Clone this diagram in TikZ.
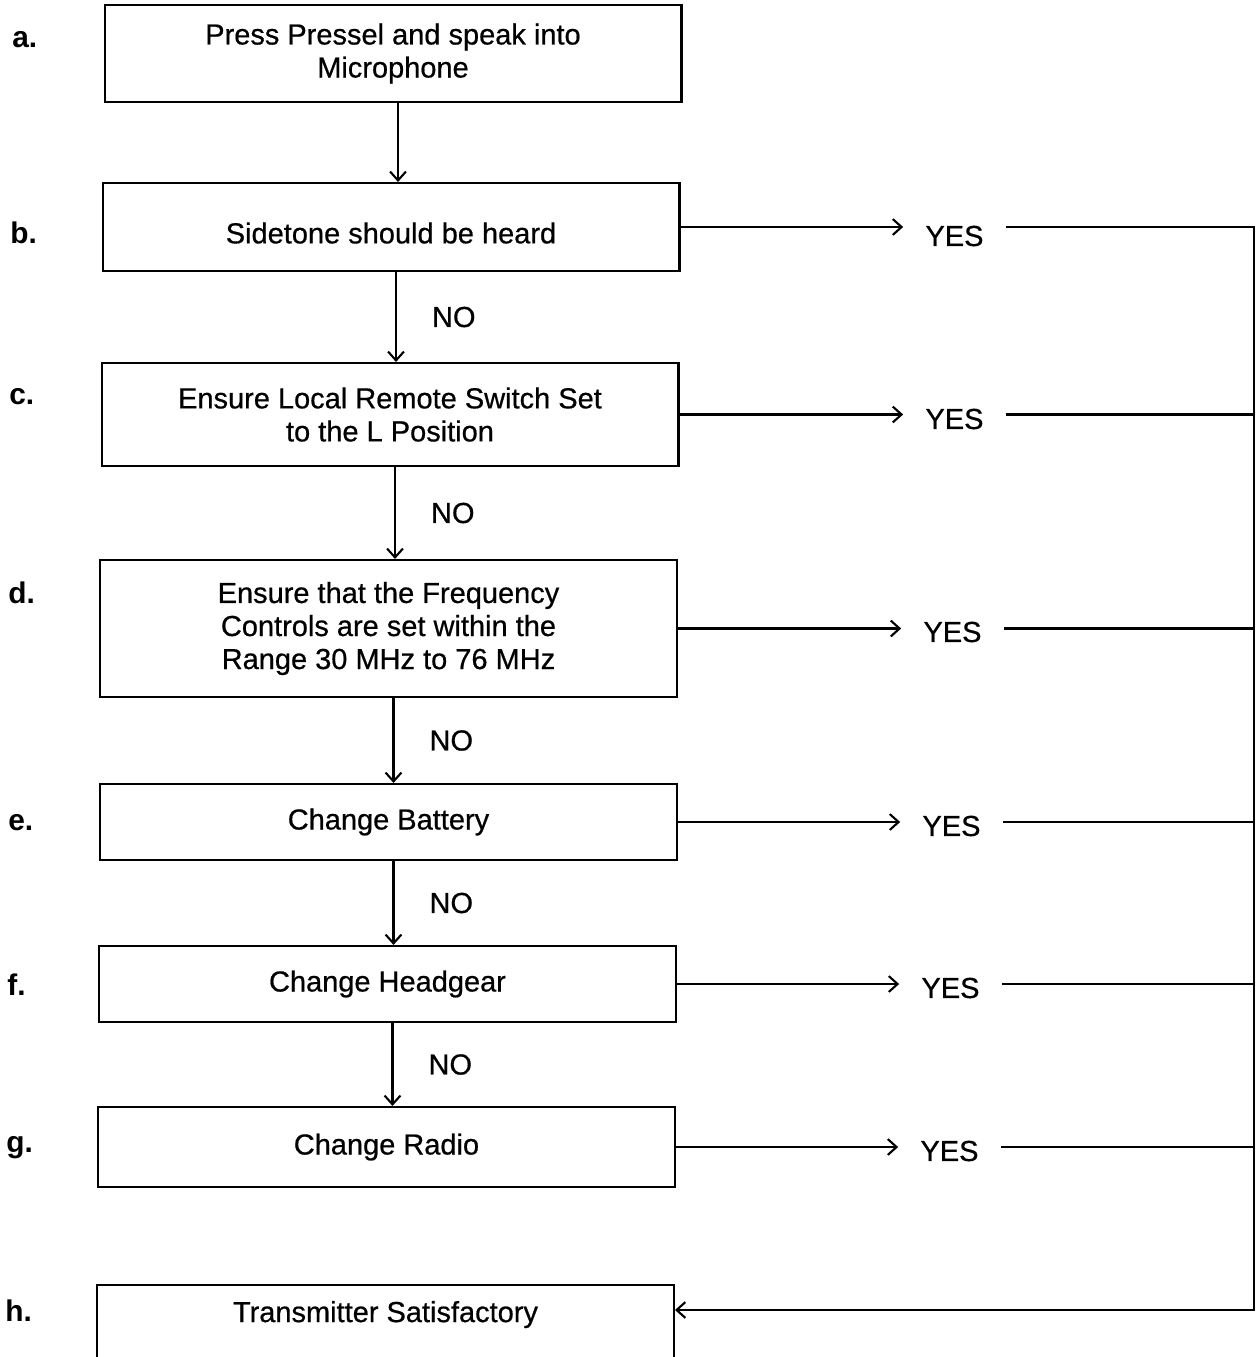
\documentclass[tikz,border=0pt]{standalone}
\usepackage{fontspec}
\setmainfont{Liberation Sans}
\newfontfamily\flowfont{Liberation Sans}[FakeBold=0.6]
\usetikzlibrary{arrows.meta,positioning}

\begin{document}
\begin{tikzpicture}[
    x=0.02cm, y=-0.02cm,
    font=\flowfont\fontsize{16.5}{18.8}\selectfont,
    stepBox/.style={
        rectangle, draw, line width=1.2pt, minimum width=11.54cm, align=center, inner sep=2pt
    },
    stepLabel/.style={
        font=\fontsize{17}{19}\selectfont\bfseries, anchor=west, inner sep=0pt
    },
    answer/.style={
        inner xsep=0.44cm, inner ysep=0pt
    },
    noLabel/.style={
        midway, right=0.7cm, inner sep=0pt
    },
    flowArrow/.style={
        -{Straight Barb[length=5pt, width=9pt]}, line width=1.2pt
    },
    railLine/.style={
        line width=1.2pt
    }
]
\useasboundingbox (0,0) rectangle (1258,1357);

% Step boxes
\node[stepBox, minimum height=1.94cm] (boxA) at (393,53.5) {Press Pressel and speak into\\Microphone};
\node[stepBox, minimum height=1.76cm, text height=0.66cm] (boxB) at (391,227) {Sidetone should be heard};
\node[stepBox, minimum height=2.06cm] (boxC) at (390,414.5) {Ensure Local Remote Switch Set\\to the L Position};
\node[stepBox, minimum height=2.74cm] (boxD) at (388.5,628.5) {Ensure that the Frequency\\Controls are set within the\\Range 30 MHz to 76 MHz};
\node[stepBox, minimum height=1.52cm] (boxE) at (388.5,822) {Change Battery};
\node[stepBox, minimum height=1.52cm] (boxF) at (387.5,984) {Change Headgear};
\node[stepBox, minimum height=1.6cm] (boxG) at (386.5,1147) {Change Radio};
\node[stepBox, anchor=north, inner ysep=0pt, text height=0.74cm, text depth=1.02cm] (boxH) at (385.5,1284) {Transmitter Satisfactory};

% Step letters
\node[stepLabel] (lblA) at (12,40) {a.};
\node[stepLabel] (lblB) at (10,233) {b.};
\node[stepLabel] (lblC) at (9,397) {c.};
\node[stepLabel] (lblD) at (8,593) {d.};
\node[stepLabel] (lblE) at (8,823) {e.};
\node[stepLabel] (lblF) at (7,985) {f.};
\node[stepLabel] (lblG) at (6,1148) {g.};
\node[stepLabel] (lblH) at (5,1311) {h.};

% YES answers
\node[answer] (yesB) at (954.5,236) {YES};
\node[answer] (yesC) at (954.5,419) {YES};
\node[answer] (yesD) at (952.5,632) {YES};
\node[answer] (yesE) at (951.5,826) {YES};
\node[answer] (yesF) at (950.5,988) {YES};
\node[answer] (yesG) at (949.5,1151) {YES};
\coordinate (rail) at (1254,0);

% NO path down the chain
\draw[flowArrow] ([xshift=0.1cm]boxA.south) -- ([xshift=0.1cm]boxA.south |- boxB.north);
\draw[flowArrow] ([xshift=0.1cm]boxB.south) -- node[noLabel] {NO} ([xshift=0.1cm]boxB.south |- boxC.north);
\draw[flowArrow] ([xshift=0.1cm]boxC.south) -- node[noLabel] {NO} ([xshift=0.1cm]boxC.south |- boxD.north);
\draw[flowArrow] ([xshift=0.1cm]boxD.south) -- node[noLabel] {NO} ([xshift=0.1cm]boxD.south |- boxE.north);
\draw[flowArrow] ([xshift=0.1cm]boxE.south) -- node[noLabel] {NO} ([xshift=0.1cm]boxE.south |- boxF.north);
\draw[flowArrow] ([xshift=0.1cm]boxF.south) -- node[noLabel] {NO} ([xshift=0.1cm]boxF.south |- boxG.north);

% YES branches
\draw[flowArrow] (boxB.east) -- (yesB.west |- boxB.east);
\draw[flowArrow] (boxC.east) -- (yesC.west |- boxC.east);
\draw[flowArrow] (boxD.east) -- (yesD.west |- boxD.east);
\draw[flowArrow] (boxE.east) -- (yesE.west |- boxE.east);
\draw[flowArrow] (boxF.east) -- (yesF.west |- boxF.east);
\draw[flowArrow] (boxG.east) -- (yesG.west |- boxG.east);

% Return rail to Transmitter Satisfactory
\coordinate (backIn) at ([yshift=-0.52cm]boxH.north east);
\draw[flowArrow] (yesB.east |- boxB.east) -- (rail |- boxB.east) -- (rail |- backIn) -- (backIn);
\draw[railLine] (yesC.east |- boxC.east) -- (rail |- boxC.east);
\draw[railLine] (yesD.east |- boxD.east) -- (rail |- boxD.east);
\draw[railLine] (yesE.east |- boxE.east) -- (rail |- boxE.east);
\draw[railLine] (yesF.east |- boxF.east) -- (rail |- boxF.east);
\draw[railLine] (yesG.east |- boxG.east) -- (rail |- boxG.east);

\end{tikzpicture}
\end{document}
